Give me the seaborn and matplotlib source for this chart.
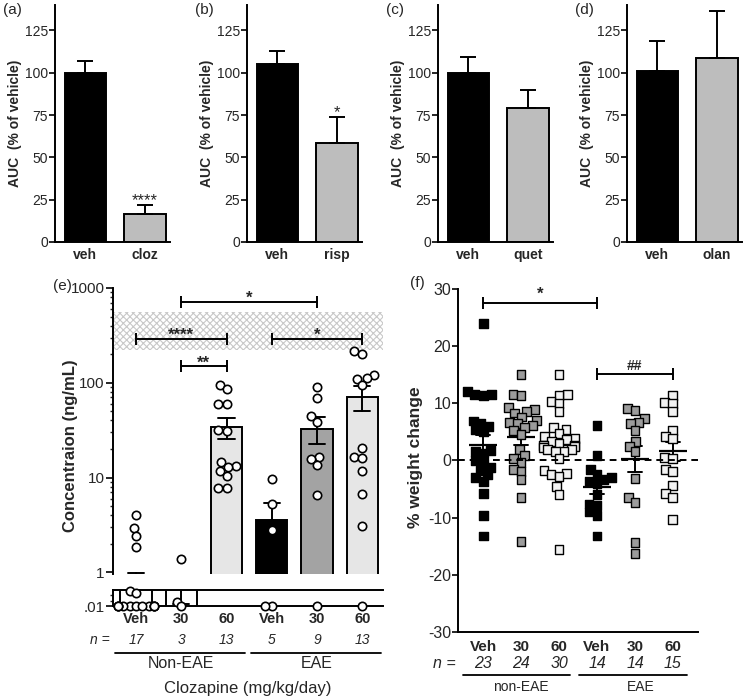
import numpy as np
import pandas as pd
import seaborn as sns
import matplotlib.pyplot as plt
import matplotlib.transforms as mtransforms
from matplotlib.ticker import LogLocator, NullFormatter
import warnings

warnings.filterwarnings('ignore')

sns.set_style('ticks')
plt.rcParams['font.family'] = ['Liberation Sans', 'DejaVu Sans']
plt.rcParams['axes.unicode_minus'] = False
plt.rcParams['axes.linewidth'] = 1.4
plt.rcParams['axes.edgecolor'] = 'black'
plt.rcParams['hatch.color'] = '#c8c8c8'
plt.rcParams['hatch.linewidth'] = 0.8

# ---- data: (a)-(d) AUC (% of vehicle), mean + upper SEM ----
auc_panels = ['(a)', '(b)', '(c)', '(d)']
auc_drugs = ['cloz', 'risp', 'quet', 'olan']
auc_veh = [100, 105, 100, 101]
auc_veh_err = [7, 8, 9, 17.5]
auc_drug = [16.5, 58.5, 79, 108.5]
auc_drug_err = [5.5, 15.5, 10.5, 28]
auc_stars = ['****', '*', '', '']

# ---- data: (e) clozapine concentration (ng/mL) ----
e_groups = ['nonEAE Veh', 'nonEAE 30', 'nonEAE 60', 'EAE Veh', 'EAE 30', 'EAE 60']
dose_labels = ['Veh', '30', '60', 'Veh', '30', '60']
e_colors = ['white', 'white', '#e6e6e6', 'black', '#a3a3a3', '#e6e6e6']
conc_nonEAE_veh = [4.0, 2.9, 2.4, 1.85, 0.0195, 0.018, 0.01, 0.01, 0.01, 0.01,
                   0.01, 0.01, 0.01, 0.01, 0.01, 0.01, 0.01]
conc_nonEAE_30 = [1.37, 0.0127, 0.01]
conc_nonEAE_60 = [95, 85, 59, 59, 32, 31, 14.5, 13.2, 13, 11.8, 10.3, 7.7, 7.7]
conc_EAE_veh = [9.7, 5.3, 2.8, 0.01, 0.01]
conc_EAE_30 = [91, 68.6, 44.7, 39, 16.6, 15.7, 13.6, 6.5, 0.01]
conc_EAE_60 = [215, 199, 122, 111, 109, 94, 20.3, 16.3, 15.9, 11.6, 6.7, 3.1, 0.01]
e_brackets = [(1, 4, 715, '*'), (0, 2, 292, '****'), (3, 5, 292, '*'), (1, 2, 149, '**')]

# ---- data: (f) % weight change ----
f_groups = ['non Veh', 'non 30', 'non 60', 'EAE Veh', 'EAE 30', 'EAE 60']
f_colors = ['black', '#9c9c9c', '#f2f2f2', 'black', '#9c9c9c', '#f2f2f2']
wc_non_veh = [24.0, 12.1, 11.6, 11.5, 11.4, 6.9, 6.5, 6.0, 5.5, 5.0, 1.7, 1.5, 1.2,
              0.0, -0.5, -1.2, -1.8, -2.5, -3.0, -3.6, -5.8, -9.6, -13.2]
wc_non_30 = [15.0, 11.5, 11.3, 9.2, 8.9, 8.6, 8.3, 7.6, 7.0, 6.6, 6.4, 6.2, 5.8, 5.2,
             4.6, 1.9, 0.9, 0.3, -0.3, -1.6, -1.9, -3.3, -6.4, -14.2]
wc_non_60 = [15.1, 11.6, 11.4, 10.3, 10.0, 8.5, 5.8, 5.5, 4.8, 4.2, 3.8, 3.4, 3.6, 3.0,
             2.7, 2.6, 2.4, 2.2, 2.0, 2.0, 1.6, 1.5, 0.3, -1.8, -2.2, -2.5, -2.8, -4.6,
             -5.9, -15.5]
wc_EAE_veh = [6.1, 0.8, -1.5, -2.4, -2.9, -3.3, -3.6, -4.1, -5.9, -7.6, -7.9, -9.0,
              -9.6, -13.2]
wc_EAE_30 = [9.1, 8.7, 7.4, 6.6, 6.4, 5.3, 3.4, 2.5, 1.5, -3.2, -6.4, -7.3, -14.3, -16.3]
wc_EAE_60 = [11.4, 10.2, 10.0, 8.5, 5.3, 4.2, 3.8, 0.5, 0.4, -1.6, -2.0, -4.4, -5.8,
             -6.5, -10.3]
f_brackets = [(0, 3, 27.5, '*'), (3, 5, 15.1, '##')]

W, H = 751, 700
fig = plt.figure(figsize=(W / 100, H / 100), dpi=100)


def box(x0, y0, x1, y1):
    # pixel box -> figure fraction
    return [x0 / W, 1 - y1 / H, (x1 - x0) / W, (y1 - y0) / H]


def fy(py):
    return 1 - py / H


# swarms are packed with small markers, then the markers get enlarged
# (GraphPad-style scatter lets points overlap a bit)
swarm_grow = []

# ================= (a)-(d) =================
lefts = [55, 247, 438, 627]
for i in range(4):
    ax = fig.add_axes(box(lefts[i], 5, lefts[i] + 115, 242))
    d = pd.DataFrame({'cond': ['veh', auc_drugs[i]],
                      'auc': [auc_veh[i], auc_drug[i]]})
    sns.barplot(data=d, x='cond', y='auc', hue='cond', palette=['black', '#bdbdbd'],
                edgecolor='black', linewidth=1.4, width=0.69, legend=False, ax=ax)
    ax.errorbar([0, 1], d['auc'], yerr=[[0, 0], [auc_veh_err[i], auc_drug_err[i]]],
                fmt='none', ecolor='black', elinewidth=1.4, capsize=5.5, capthick=1.4)
    if auc_stars[i]:
        ax.annotate(auc_stars[i], xy=(1, auc_drug[i] + auc_drug_err[i]), xytext=(0, 0),
                    textcoords='offset points', ha='center', va='baseline', fontsize=12)
    ax.set_ylim(0, 140)
    ax.set_xlim(-0.51, 1.42)
    ax.set_yticks([0, 25, 50, 75, 100, 125])
    ax.tick_params(axis='y', length=4, width=1.4, labelsize=10, pad=1)
    ax.tick_params(axis='x', length=0, labelsize=10, pad=4)
    ax.set_xticks([0, 1])
    ax.set_xticklabels(['veh', auc_drugs[i]], fontweight='bold')
    ax.set_xlabel('')
    ax.set_ylabel('AUC  (% of vehicle)', fontweight='bold', fontsize=10)
    ax.yaxis.set_label_coords(-0.29, 0.5)
    sns.despine(ax=ax)
    fig.text((lefts[i] - 52) / W, fy(3), auc_panels[i], fontsize=11, ha='left', va='top')

# ================= (e) =================
e_lists = [conc_nonEAE_veh, conc_nonEAE_30, conc_nonEAE_60,
           conc_EAE_veh, conc_EAE_30, conc_EAE_60]
df_e = pd.DataFrame({'group': np.repeat(e_groups, [len(v) for v in e_lists]),
                     'conc': np.concatenate(e_lists)})

ax_e = fig.add_axes(box(113, 288, 383, 574))
bar_kw = dict(x='group', y='conc', order=e_groups, hue='group', hue_order=e_groups,
              palette=e_colors, edgecolor='black', linewidth=1.4, width=0.69,
              errorbar='se', capsize=0.36, err_kws={'color': 'black', 'linewidth': 1.4},
              legend=False)
sns.barplot(data=df_e, ax=ax_e, **bar_kw)
ax_e.set_yscale('log')
ax_e.set_ylim(0.96, 1000)
ax_e.set_xlim(-0.51, 5.46)
ax_e.axhspan(220, 560, facecolor='white', edgecolor='#c8c8c8', hatch='xxxxx',
             linewidth=0, zorder=0)
n0 = len(ax_e.collections)
sns.swarmplot(data=df_e[df_e['conc'] >= 1], x='group', y='conc', order=e_groups,
              color='white', edgecolor='black', linewidth=1.2, size=4.6, ax=ax_e)
swarm_grow += [(c, 6.0) for c in ax_e.collections[n0:]]
ax_e.set_xlim(-0.51, 5.46)
ax_e.set_ylim(0.96, 1000)
ax_e.set_yticks([1, 10, 100, 1000])
ax_e.set_yticklabels(['1', '10', '100', '1000'])
ax_e.yaxis.set_minor_locator(LogLocator(base=10, subs=range(2, 10)))
ax_e.yaxis.set_minor_formatter(NullFormatter())
ax_e.tick_params(axis='y', which='major', length=5, width=1.4, labelsize=11, pad=1)
ax_e.tick_params(axis='y', which='minor', length=2.5, width=1)
ax_e.tick_params(axis='x', length=0, labelbottom=False)
ax_e.set_xlabel('')
ax_e.set_ylabel('Concentraion (ng/mL)', fontweight='bold', fontsize=12)
ax_e.yaxis.set_label_coords(-0.13, 0.45)
for s in ['top', 'right', 'bottom']:
    ax_e.spines[s].set_visible(False)
for x1, x2, yb, lab in e_brackets:
    ax_e.plot([x1, x2], [yb, yb], color='black', lw=1.4, marker='|', markersize=8,
              markeredgewidth=1.4)
    ax_e.annotate(lab, xy=((x1 + x2) / 2, yb), xytext=(0, -1), textcoords='offset points',
                  ha='center', va='baseline', fontsize=12, fontweight='bold')

# lower broken segment (.01)
ax_l = fig.add_axes(box(113, 590, 383, 606))
sns.barplot(data=df_e[df_e['group'].isin(e_groups[:2])], ax=ax_l, **bar_kw)
ax_l.set_ylim(0.01, 0.02)
ax_l.set_xlim(-0.51, 5.46)
n0 = len(ax_l.collections)
sns.swarmplot(data=df_e[df_e['conc'] < 1], x='group', y='conc', order=e_groups,
              color='white', edgecolor='black', linewidth=1.2, size=3.2, ax=ax_l)
swarm_grow += [(c, 6.0) for c in ax_l.collections[n0:]]
for c in ax_l.collections:
    c.set_clip_on(False)
ax_l.set_ylim(0.01, 0.02)
ax_l.set_xlim(-0.51, 5.46)
ax_l.set_yticks([0.01])
ax_l.set_yticklabels(['.01'])
ax_l.set_yticks([0.0133, 0.0167], minor=True)
ax_l.tick_params(axis='y', which='major', length=5, width=1.4, labelsize=11, pad=1)
ax_l.tick_params(axis='y', which='minor', length=2.5, width=1)
ax_l.set_xticks(range(6))
ax_l.set_xticklabels(dose_labels, fontweight='bold')
ax_l.tick_params(axis='x', length=0, labelsize=10.5, pad=4)
ax_l.set_xlabel('')
ax_l.set_ylabel('')
ax_l.spines['right'].set_visible(False)

tr_e = mtransforms.blended_transform_factory(ax_l.transData, fig.transFigure)
for i, v in enumerate(e_lists):
    ax_l.text(i, fy(640), str(len(v)), transform=tr_e, ha='center', va='center',
              style='italic', fontsize=10)
fig.text(110 / W, fy(640), 'n =', ha='right', va='center', style='italic', fontsize=10)
ax_l.plot([-0.46, 2.41], [fy(653), fy(653)], transform=tr_e, color='black', lw=1.3,
          clip_on=False)
ax_l.plot([2.54, 5.42], [fy(653), fy(653)], transform=tr_e, color='black', lw=1.3,
          clip_on=False)
ax_l.text(1, fy(664), 'Non-EAE', transform=tr_e, ha='center', va='center', fontsize=11.5)
ax_l.text(4, fy(664), 'EAE', transform=tr_e, ha='center', va='center', fontsize=11.5)
ax_l.text(2.48, fy(688), 'Clozapine (mg/kg/day)', transform=tr_e, ha='center',
          va='center', fontsize=12)
fig.text(53 / W, fy(286), '(e)', fontsize=11, ha='left', va='center')

# ================= (f) =================
f_lists = [wc_non_veh, wc_non_30, wc_non_60, wc_EAE_veh, wc_EAE_30, wc_EAE_60]
df_f = pd.DataFrame({'group': np.repeat(f_groups, [len(v) for v in f_lists]),
                     'change': np.concatenate(f_lists)})

ax_f = fig.add_axes(box(458, 289, 698, 632))
sns.swarmplot(data=df_f, x='group', y='change', order=f_groups, hue='group',
              hue_order=f_groups, palette=f_colors, marker='s', size=4.6,
              edgecolor='black', linewidth=1, legend=False, ax=ax_f)
swarm_grow += [(c, 6.4) for c in ax_f.collections]
sns.pointplot(data=df_f, x='group', y='change', order=f_groups, errorbar='se',
              color='black', markers='_', markersize=20, markeredgewidth=1.6,
              linestyle='none', capsize=0.35, err_kws={'linewidth': 1.4}, ax=ax_f)
ax_f.axhline(0, color='black', lw=1.4, ls=(0, (3.5, 2.5)), zorder=5)
ax_f.set_ylim(-30, 30)
ax_f.set_xlim(-0.66, 5.66)
ax_f.set_yticks(range(-30, 31, 10))
ax_f.tick_params(axis='y', length=4, width=1.4, labelsize=11.5, pad=1)
ax_f.set_xticks(range(6))
ax_f.set_xticklabels(dose_labels, fontweight='bold')
ax_f.tick_params(axis='x', length=0, labelsize=11, pad=6)
ax_f.set_xlabel('')
ax_f.set_ylabel('% weight change', fontweight='bold', fontsize=12.5)
ax_f.yaxis.set_label_coords(-0.146, 0.51)
sns.despine(ax=ax_f)
for x1, x2, yb, lab in f_brackets:
    ax_f.plot([x1, x2], [yb, yb], color='black', lw=1.4, marker='|', markersize=9,
              markeredgewidth=1.4)
    ax_f.annotate(lab, xy=((x1 + x2) / 2, yb), xytext=(0, 3), textcoords='offset points',
                  ha='center', va='baseline', fontsize=12 if lab == '*' else 10,
                  fontweight='bold')

tr_f = mtransforms.blended_transform_factory(ax_f.transData, fig.transFigure)
for i, v in enumerate(f_lists):
    ax_f.text(i, fy(663), str(len(v)), transform=tr_f, ha='center', va='center',
              style='italic', fontsize=11.5)
fig.text(456 / W, fy(663), 'n =', ha='right', va='center', style='italic', fontsize=11.5)
ax_f.plot([-0.53, 2.29], [fy(675), fy(675)], transform=tr_f, color='black', lw=1.3,
          clip_on=False)
ax_f.plot([2.53, 5.37], [fy(675), fy(675)], transform=tr_f, color='black', lw=1.3,
          clip_on=False)
ax_f.text(1, fy(687), 'non-EAE', transform=tr_f, ha='center', va='center', fontsize=10)
ax_f.text(4.16, fy(687), 'EAE', transform=tr_f, ha='center', va='center', fontsize=10)
fig.text(410 / W, fy(283), '(f)', fontsize=11, ha='left', va='center')

# first draw lays out the swarms; then freeze them and enlarge the markers
fig.canvas.draw()
for coll, sz in swarm_grow:
    if 'draw' in vars(coll):
        del coll.draw
    coll.set_sizes([sz ** 2])

fig.savefig('out.png', dpi=100)
